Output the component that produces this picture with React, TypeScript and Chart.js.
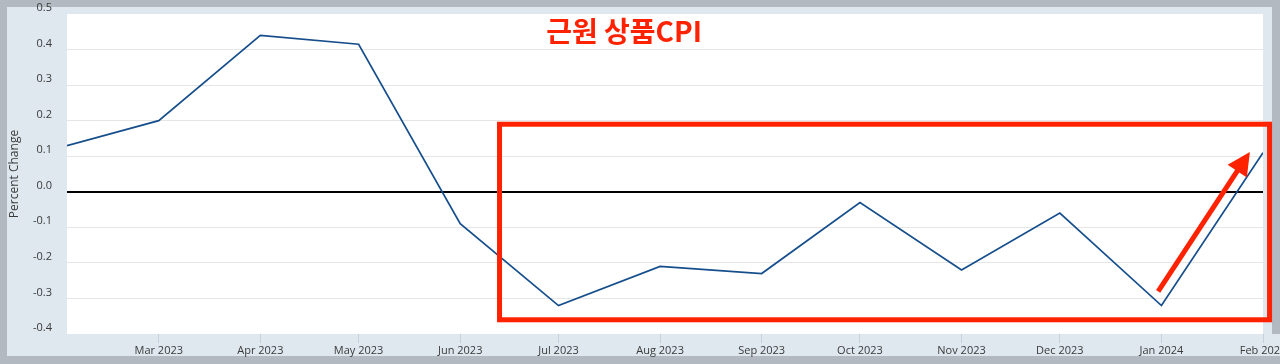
import React, { useEffect, useRef } from 'react';
import { Chart, registerables } from 'chart.js';

Chart.register(...registerables);

// ---- data ----
const months = ['2023-02', '2023-03', '2023-04', '2023-05', '2023-06', '2023-07', '2023-08', '2023-09', '2023-10', '2023-11', '2023-12', '2024-01', '2024-02'];
const coreGoodsCpi = [0.13, 0.2, 0.44, 0.415, -0.09, -0.32, -0.21, -0.23, -0.03, -0.22, -0.06, -0.32, 0.11];
const xTickMonths = ['2023-03', '2023-04', '2023-05', '2023-06', '2023-07', '2023-08', '2023-09', '2023-10', '2023-11', '2023-12', '2024-01', '2024-02'];
const xTickLabels = ['Mar 2023', 'Apr 2023', 'May 2023', 'Jun 2023', 'Jul 2023', 'Aug 2023', 'Sep 2023', 'Oct 2023', 'Nov 2023', 'Dec 2023', 'Jan 2024', 'Feb 2024'];
const yTickValues = [-0.4, -0.3, -0.2, -0.1, 0, 0.1, 0.2, 0.3, 0.4, 0.5];
const yAxisTitle = 'Percent Change';
const overlayTitle = '근원 상품CPI';

// annotation anchors (data coordinates: date, value)
const highlightBoxDates = ['2023-06-13', '2024-02-03'];
const highlightBoxValues = [0.19, -0.36];
const arrowDates = ['2023-12-31', '2024-01-28'];
const arrowValues = [-0.28, 0.112];
const overlayTitleDate = '2023-07-21';
const overlayTitleValue = 0.45;

const ORIGIN = Date.UTC(2023, 1, 1);
const toDay = (s: string) => {
  const p = s.split('-').map(Number);
  return (Date.UTC(p[0], p[1] - 1, p[2] || 1) - ORIGIN) / 86400000;
};

const RED = '#ff2200';
const LINE = '#164e8c';
const FRAME = '#b2b9c1';
const PANEL = '#dfe7ef';
const TEXT = '#3a3a3a';

const backgroundPlugin = {
  id: 'bg',
  beforeDraw(chart: any) {
    const { ctx, chartArea: a, width, height } = chart;
    ctx.save();
    ctx.fillStyle = FRAME;
    ctx.fillRect(0, 0, width, height);
    ctx.fillStyle = PANEL;
    ctx.fillRect(7, a.top - 7, a.right + 9 - 7, a.bottom + 22 - (a.top - 7));
    ctx.fillRect(a.right, a.bottom, width - a.right, 22);
    ctx.fillStyle = '#ffffff';
    ctx.fillRect(a.left, a.top, a.right - a.left, a.bottom - a.top);
    ctx.restore();
  },
};

const annotationPlugin = {
  id: 'annot',
  afterDraw(chart: any) {
    const { ctx } = chart;
    const x = chart.scales.x;
    const y = chart.scales.y;
    ctx.save();
    // box
    const bx1 = x.getPixelForValue(toDay(highlightBoxDates[0]));
    const bx2 = x.getPixelForValue(toDay(highlightBoxDates[1]));
    const by1 = y.getPixelForValue(highlightBoxValues[0]);
    const by2 = y.getPixelForValue(highlightBoxValues[1]);
    ctx.strokeStyle = RED;
    ctx.lineWidth = 5;
    ctx.lineJoin = 'miter';
    ctx.strokeRect(bx1, by1, bx2 - bx1, by2 - by1);
    // arrow
    const tx = x.getPixelForValue(toDay(arrowDates[0]));
    const ty = y.getPixelForValue(arrowValues[0]);
    const hx = x.getPixelForValue(toDay(arrowDates[1]));
    const hy = y.getPixelForValue(arrowValues[1]);
    const dx = hx - tx, dy = hy - ty;
    const len = Math.sqrt(dx * dx + dy * dy);
    const ux = dx / len, uy = dy / len;
    const headLen = 23, headHalf = 11.5;
    const bxp = hx - ux * headLen, byp = hy - uy * headLen;
    ctx.lineCap = 'butt';
    ctx.beginPath();
    ctx.moveTo(tx, ty);
    ctx.lineTo(bxp + ux * 2, byp + uy * 2);
    ctx.stroke();
    ctx.fillStyle = RED;
    ctx.beginPath();
    ctx.moveTo(hx, hy);
    ctx.lineTo(bxp - uy * headHalf, byp + ux * headHalf);
    ctx.lineTo(bxp + uy * headHalf, byp - ux * headHalf);
    ctx.closePath();
    ctx.fill();
    // title
    ctx.font = 'bold 28px "Noto Sans CJK KR", "Noto Sans", sans-serif';
    ctx.textAlign = 'center';
    ctx.textBaseline = 'middle';
    ctx.fillText(overlayTitle, x.getPixelForValue(toDay(overlayTitleDate)), y.getPixelForValue(overlayTitleValue));
    ctx.restore();
  },
};

export default function App() {
  const ref = useRef<HTMLCanvasElement | null>(null);
  useEffect(() => {
    if (!ref.current) return;
    const points = months.map((m, i) => ({ x: toDay(m), y: coreGoodsCpi[i] }));
    const chart = new Chart(ref.current, {
      type: 'line',
      data: {
        datasets: [
          {
            data: points,
            borderColor: LINE,
            borderWidth: 1.7,
            pointRadius: 0,
            tension: 0,
            fill: false,
          },
        ],
      },
      options: {
        animation: false,
        responsive: false,
        devicePixelRatio: 1,
        layout: { padding: { left: 0, right: 17, top: 14, bottom: 0 } },
        plugins: { legend: { display: false }, tooltip: { enabled: false }, title: { display: false } },
        scales: {
          x: {
            type: 'linear',
            min: toDay(months[0]),
            max: toDay(months[months.length - 1]),
            border: { display: false },
            grid: { drawOnChartArea: false, drawTicks: true, tickLength: 9, color: '#c5d0dc', lineWidth: 1 },
            afterBuildTicks: (scale: any) => {
              scale.ticks = xTickMonths.map((m) => ({ value: toDay(m) }));
            },
            afterFit: (scale: any) => {
              scale.height = 30;
              scale.paddingLeft = 0;
              scale.paddingRight = 0;
            },
            ticks: {
              autoSkip: false,
              maxRotation: 0,
              minRotation: 0,
              padding: 1,
              color: TEXT,
              font: { family: '"Open Sans", sans-serif', size: 11 },
              callback: (_v: any, i: number) => xTickLabels[i],
            },
          },
          y: {
            type: 'linear',
            min: yTickValues[0],
            max: yTickValues[yTickValues.length - 1],
            border: { display: false },
            afterBuildTicks: (scale: any) => {
              scale.ticks = yTickValues.map((v) => ({ value: v }));
            },
            afterFit: (scale: any) => {
              scale.width = 67;
              scale.paddingTop = 0;
              scale.paddingBottom = 0;
            },
            grid: {
              drawTicks: false,
              color: (c: any) => {
                const v = c.tick ? c.tick.value : 0;
                if (Math.abs(v) < 1e-9) return '#000000';
                if (v <= yTickValues[0] + 1e-9 || v >= yTickValues[yTickValues.length - 1] - 1e-9) return 'rgba(0,0,0,0)';
                return '#e6e6e6';
              },
              lineWidth: (c: any) => (c.tick && Math.abs(c.tick.value) < 1e-9 ? 2 : 1),
            },
            title: {
              display: true,
              text: yAxisTitle,
              color: TEXT,
              font: { family: '"Open Sans", sans-serif', size: 12 },
              padding: { top: 7, bottom: 0 },
            },
            ticks: {
              padding: 15,
              labelOffset: -6,
              color: TEXT,
              font: { family: '"Open Sans", sans-serif', size: 11 },
              callback: (v: any) => (Math.abs(Number(v)) < 1e-9 ? '0.0' : Number(v).toFixed(1)),
            },
          },
        },
      },
      plugins: [backgroundPlugin, annotationPlugin],
    } as any);
    return () => chart.destroy();
  }, []);
  return (
    <div style={{ position: 'absolute', left: 0, top: 0, width: 1280, height: 364 }}>
      <canvas ref={ref} width={1280} height={364} style={{ display: 'block', width: 1280, height: 364 }} />
    </div>
  );
}
